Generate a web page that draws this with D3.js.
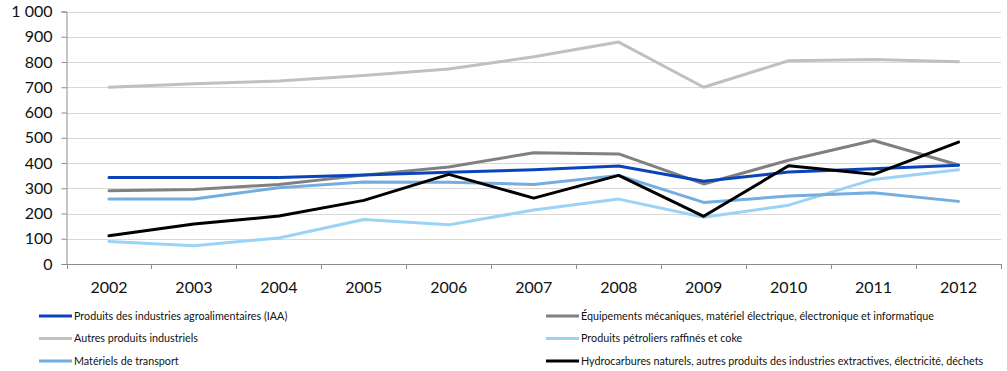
<!DOCTYPE html>
<html>
<head>
<meta charset="utf-8">
<script src="https://cdn.jsdelivr.net/npm/d3@7"></script>
<style>
  html, body { margin: 0; padding: 0; background: #fff; }
  svg { display: block; font-family: Lato, "Open Sans", sans-serif; }
</style>
</head>
<body>
<svg id="chart" width="1007" height="371"></svg>
<script>
// Years on the category axis
const years = ["2002","2003","2004","2005","2006","2007","2008","2009","2010","2011","2012"];

// Series values
const iaa          = [343, 343, 343, 352, 363, 373, 388, 328, 364, 377, 391];
const autres       = [700, 714, 725, 747, 772, 821, 879, 700, 805, 810, 801];
const equipements  = [290, 295, 315, 352, 384, 441, 436, 317, 411, 489, 392];
const transport    = [257, 257, 302, 325, 324, 315, 351, 244, 269, 282, 248];
const petroliers   = [89, 72, 103, 176, 155, 214, 257, 185, 233, 335, 373];
const hydrocarbures= [112, 158, 190, 252, 355, 261, 351, 189, 389, 355, 483];

// Y axis ticks
const yTicks = [0, 100, 200, 300, 400, 500, 600, 700, 800, 900, 1000];

const series = [
  { name: "Produits des industries agroalimentaires (IAA)", values: iaa, color: "#0b43b8" },
  { name: "Autres produits industriels", values: autres, color: "#c0c0c0" },
  { name: "Matériels de transport", values: transport, color: "#74ade0" },
  { name: "Équipements mécaniques, matériel électrique, électronique et informatique", values: equipements, color: "#808080" },
  { name: "Produits pétroliers raffinés et coke", values: petroliers, color: "#9ad3f5" },
  { name: "Hydrocarbures naturels, autres produits des industries extractives, électricité, déchets", values: hydrocarbures, color: "#000000" }
];
// Drawing order (back to front)
const drawOrder = [1, 4, 2, 3, 0, 5];

const svg = d3.select("#chart");
const plotLeft = 66.5, plotRight = 1001, plotTop = 11.5, plotBottom = 264;

const x = d3.scaleBand().domain(years).range([plotLeft, plotRight]);
const y = d3.scaleLinear().domain([0, 1000]).range([plotBottom, plotTop]);

const fmt = v => d3.format(",")(v).replace(",", "\u00a0");

// Horizontal gridlines
svg.append("g").selectAll("line")
  .data(yTicks.filter(d => d > 0))
  .join("line")
  .attr("x1", plotLeft).attr("x2", plotRight)
  .attr("y1", d => Math.round(y(d)) + 0.5).attr("y2", d => Math.round(y(d)) + 0.5)
  .attr("stroke", "#d9d9d9").attr("stroke-width", 1);

// Y axis
const yAxis = svg.append("g")
  .attr("transform", `translate(${plotLeft},0)`)
  .call(d3.axisLeft(y).tickValues(yTicks).tickSize(5).tickPadding(9).tickFormat(fmt));
yAxis.select(".domain").attr("stroke", "#8c8c8c");
yAxis.selectAll(".tick line").attr("stroke", "#8c8c8c");
yAxis.selectAll(".tick text")
  .attr("font-size", 16).attr("fill", "#111")
  .attr("font-family", "Lato, 'Open Sans', sans-serif");

// X axis with tick marks between categories
const xAxisG = svg.append("g").attr("transform", `translate(0,${plotBottom})`);
xAxisG.append("line")
  .attr("x1", plotLeft).attr("x2", plotRight).attr("y1", 0.5).attr("y2", 0.5)
  .attr("stroke", "#8c8c8c");
const boundaries = years.map(d => x(d)).concat([x(years[years.length - 1]) + x.bandwidth()]);
xAxisG.selectAll("line.tk")
  .data(boundaries)
  .join("line").attr("class", "tk")
  .attr("x1", d => Math.round(d) + 0.5).attr("x2", d => Math.round(d) + 0.5)
  .attr("y1", 0).attr("y2", 5)
  .attr("stroke", "#8c8c8c");
xAxisG.selectAll("text")
  .data(years)
  .join("text")
  .attr("x", d => x(d) + x.bandwidth() / 2)
  .attr("y", 29)
  .attr("text-anchor", "middle")
  .attr("font-size", 16).attr("fill", "#111")
  .text(d => d);

// Lines
const line = d3.line()
  .x((d, i) => x(years[i]) + x.bandwidth() / 2)
  .y(d => y(d));

svg.append("g").selectAll("path")
  .data(drawOrder.map(i => series[i]))
  .join("path")
  .attr("d", d => line(d.values))
  .attr("fill", "none")
  .attr("stroke", d => d.color)
  .attr("stroke-width", 3)
  .attr("stroke-linejoin", "round")
  .attr("stroke-linecap", "round");

// Legend: two columns, three rows
const legend = svg.append("g");
const legendItems = legend.selectAll("g")
  .data(series)
  .join("g")
  .attr("transform", (d, i) => {
    const col = i < 3 ? 0 : 1;
    const row = i % 3;
    return `translate(${col === 0 ? 39 : 546},${316 + row * 22.5})`;
  });
legendItems.append("line")
  .attr("x1", 0).attr("x2", 33).attr("y1", 0).attr("y2", 0)
  .attr("stroke", d => d.color).attr("stroke-width", 3);
legendItems.append("text")
  .attr("x", 35).attr("y", 3.7)
  .attr("font-size", 10.75).attr("fill", "#111")
  .text(d => d.name);
</script>
</body>
</html>
